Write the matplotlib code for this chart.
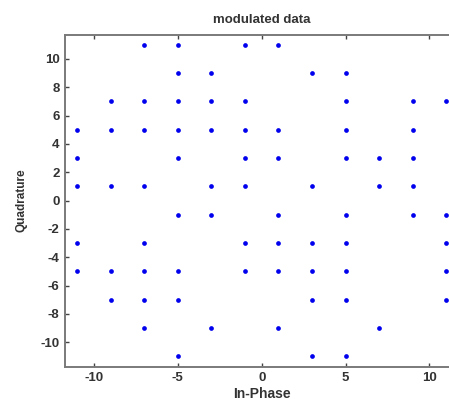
import matplotlib
matplotlib.use("Agg")
import matplotlib.pyplot as plt

plt.rcParams["font.family"] = ["Liberation Sans", "DejaVu Sans"]
plt.rcParams["axes.unicode_minus"] = False

# constellation points, grouped by quadrature level
q_levels = [11, 9, 7, 5, 3, 1, -1, -3, -5, -7, -9, -11]
i_values = [
    [-7, -5, -1, 1],
    [-5, -3, 3, 5],
    [-9, -7, -5, -3, -1, 5, 9, 11],
    [-11, -9, -7, -5, -3, -1, 1, 5, 9],
    [-11, -5, -1, 1, 5, 7, 9],
    [-11, -9, -7, -3, -1, 3, 7, 9],
    [-5, -3, 1, 5, 9, 11],
    [-11, -7, -1, 1, 3, 5, 11],
    [-11, -9, -7, -5, -1, 1, 3, 5, 11],
    [-9, -7, -5, 3, 5, 11],
    [-7, -3, 1, 7],
    [-5, 3, 5],
]
x_ticks = [-10, -5, 0, 5, 10]
y_ticks = [-10, -8, -6, -4, -2, 0, 2, 4, 6, 8, 10]

xs = []
ys = []
for q, row in zip(q_levels, i_values):
    for i in row:
        xs.append(i)
        ys.append(q)

fig = plt.figure(figsize=(4.49, 4.03), dpi=100)
# right side of the original axes is cut off by the picture edge
ax = fig.add_axes([65 / 449, 36.3 / 403, 393.4 / 449, 332.2 / 403])

ax.plot(xs, ys, linestyle="none", marker="o", markersize=3.4,
        color="#0000ee", markeredgewidth=0, clip_on=False)

ax.set_xlim(-11.73, 11.73)
ax.set_ylim(-11.72, 11.72)
ax.set_xticks(x_ticks)
ax.set_yticks(y_ticks)

grey = "#7a7a7a"
for side in ["left", "bottom", "top"]:
    ax.spines[side].set_color(grey)
    ax.spines[side].set_linewidth(1.4)
ax.spines["right"].set_visible(False)
ax.tick_params(direction="in", length=3, width=1, color="#444444",
               top=True, labelsize=9.5, labelcolor="#333333", pad=4)
for lab in ax.get_xticklabels() + ax.get_yticklabels():
    lab.set_fontweight("bold")

ax.set_title("modulated data", fontsize=9.5, fontweight="bold",
             color="#333333", pad=8)
ax.set_xlabel("In-Phase", fontsize=10, fontweight="bold", color="#333333",
              labelpad=2)
ax.set_ylabel("Quadrature", fontsize=8.5, fontweight="bold", color="#333333",
              labelpad=9)

fig.savefig("out.png", dpi=100)
